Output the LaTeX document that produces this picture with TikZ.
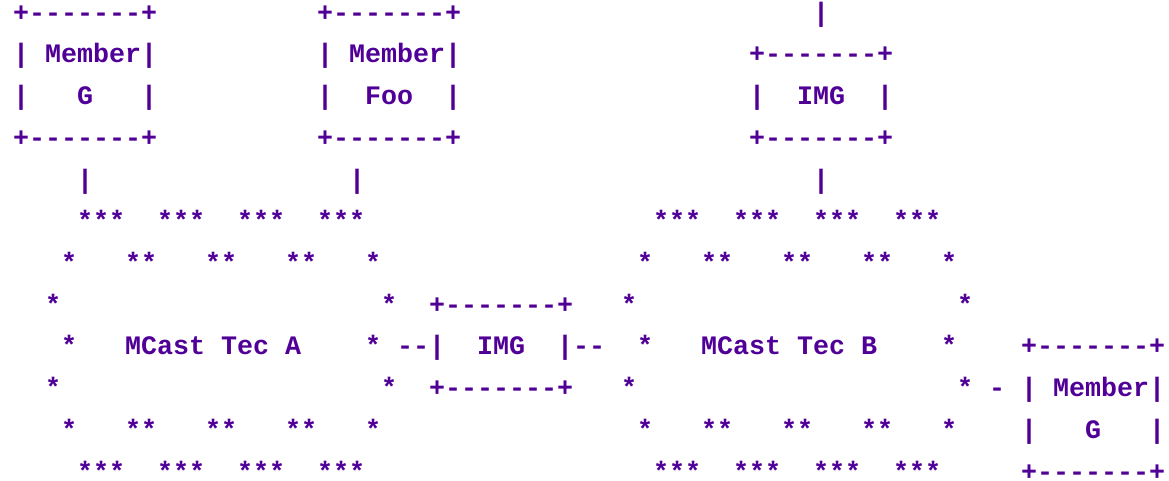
\documentclass[tikz,border=0pt]{standalone}
\usepackage{fontspec}
\setmonofont{Liberation Mono}
\definecolor{ink}{RGB}{80,0,150}
\tikzset{txt/.style={anchor=base west,inner sep=0pt,outer sep=0pt,text=ink,
  font=\ttfamily\bfseries\fontsize{26.67pt}{30pt}\selectfont}}
\newcommand\R[4]{\node[txt] (#1) at (13pt+16pt*#2, -21.3pt-41.7pt*#3+41.7pt) {#4};}
\begin{document}
\begin{tikzpicture}
\useasboundingbox (0pt,0pt) rectangle (1169pt,-481pt);
% row 1
\R{a1}{0}{1}{+-------+}
\R{b1}{19}{1}{+-------+}
\R{c1}{50}{1}{|}
% row 2
\R{a2}{0}{2}{|~Member|}
\R{b2}{19}{2}{|~Member|}
\R{c2}{46}{2}{+-------+}
% row 3
\R{a3}{0}{3}{|~~~G~~~|}
\R{b3}{19}{3}{|~~Foo~~|}
\R{c3}{46}{3}{|~~IMG~~|}
% row 4
\R{a4}{0}{4}{+-------+}
\R{b4}{19}{4}{+-------+}
\R{c4}{46}{4}{+-------+}
% row 5
\R{a5}{4}{5}{|}
\R{b5}{21}{5}{|}
\R{c5}{50}{5}{|}
% row 6
\R{s6a}{4}{6}{***}
\R{s6b}{9}{6}{***}
\R{s6c}{14}{6}{***}
\R{s6d}{19}{6}{***}
\R{s6e}{40}{6}{***}
\R{s6f}{45}{6}{***}
\R{s6g}{50}{6}{***}
\R{s6h}{55}{6}{***}
% row 7
\R{s7a}{3}{7}{*}
\R{s7b}{7}{7}{**}
\R{s7c}{12}{7}{**}
\R{s7d}{17}{7}{**}
\R{s7e}{22}{7}{*}
\R{s7f}{39}{7}{*}
\R{s7g}{43}{7}{**}
\R{s7h}{48}{7}{**}
\R{s7i}{53}{7}{**}
\R{s7j}{58}{7}{*}
% row 8
\R{s8a}{2}{8}{*}
\R{s8b}{23}{8}{*}
\R{i8}{26}{8}{+-------+}
\R{s8c}{38}{8}{*}
\R{s8d}{59}{8}{*}
% row 9
\R{s9a}{3}{9}{*}
\R{ta}{7}{9}{MCast~Tec~A}
\R{s9b}{22}{9}{*}
\R{l9}{24}{9}{--|}
\R{i9}{29}{9}{IMG}
\R{r9}{34}{9}{|--}
\R{s9c}{39}{9}{*}
\R{tb}{43}{9}{MCast~Tec~B}
\R{s9d}{58}{9}{*}
\R{g9}{63}{9}{+-------+}
% row 10
\R{s10a}{2}{10}{*}
\R{s10b}{23}{10}{*}
\R{i10}{26}{10}{+-------+}
\R{s10c}{38}{10}{*}
\R{s10d}{59}{10}{*}
\R{d10}{61}{10}{-}
\R{g10}{63}{10}{|~Member|}
% row 11
\R{s11a}{3}{11}{*}
\R{s11b}{7}{11}{**}
\R{s11c}{12}{11}{**}
\R{s11d}{17}{11}{**}
\R{s11e}{22}{11}{*}
\R{s11f}{39}{11}{*}
\R{s11g}{43}{11}{**}
\R{s11h}{48}{11}{**}
\R{s11i}{53}{11}{**}
\R{s11j}{58}{11}{*}
\R{g11}{63}{11}{|~~~G~~~|}
% row 12
\R{s12a}{4}{12}{***}
\R{s12b}{9}{12}{***}
\R{s12c}{14}{12}{***}
\R{s12d}{19}{12}{***}
\R{s12e}{40}{12}{***}
\R{s12f}{45}{12}{***}
\R{s12g}{50}{12}{***}
\R{s12h}{55}{12}{***}
\R{g12}{63}{12}{+-------+}
\end{tikzpicture}
\end{document}
